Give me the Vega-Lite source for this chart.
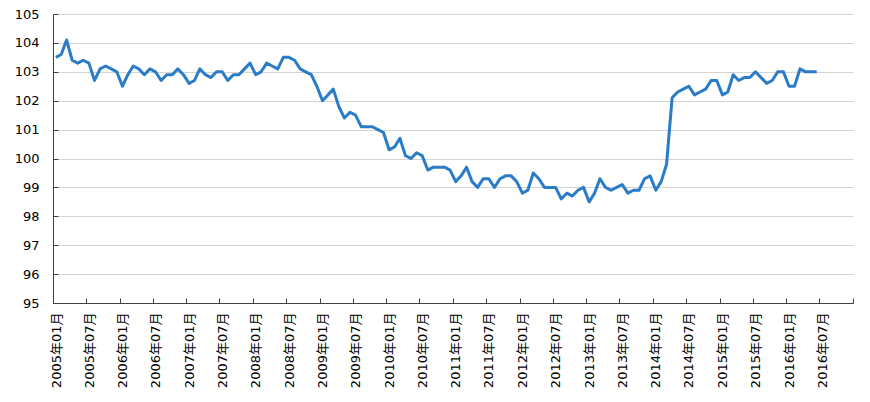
{
  "$schema": "https://vega.github.io/schema/vega-lite/v6.json",
  "width": 800,
  "height": 289,
  "autosize": {"type": "none"},
  "padding": {"left": 53, "top": 14, "right": 17, "bottom": 99},
  "background": "white",
  "data": {
    "values": [
      {"month": "2005-01", "value": 103.5}, {"month": "2005-02", "value": 103.6}, {"month": "2005-03", "value": 104.1},
      {"month": "2005-04", "value": 103.4}, {"month": "2005-05", "value": 103.3}, {"month": "2005-06", "value": 103.4},
      {"month": "2005-07", "value": 103.3}, {"month": "2005-08", "value": 102.7}, {"month": "2005-09", "value": 103.1},
      {"month": "2005-10", "value": 103.2}, {"month": "2005-11", "value": 103.1}, {"month": "2005-12", "value": 103.0},
      {"month": "2006-01", "value": 102.5}, {"month": "2006-02", "value": 102.9}, {"month": "2006-03", "value": 103.2},
      {"month": "2006-04", "value": 103.1}, {"month": "2006-05", "value": 102.9}, {"month": "2006-06", "value": 103.1},
      {"month": "2006-07", "value": 103.0}, {"month": "2006-08", "value": 102.7}, {"month": "2006-09", "value": 102.9},
      {"month": "2006-10", "value": 102.9}, {"month": "2006-11", "value": 103.1}, {"month": "2006-12", "value": 102.9},
      {"month": "2007-01", "value": 102.6}, {"month": "2007-02", "value": 102.7}, {"month": "2007-03", "value": 103.1},
      {"month": "2007-04", "value": 102.9}, {"month": "2007-05", "value": 102.8}, {"month": "2007-06", "value": 103.0},
      {"month": "2007-07", "value": 103.0}, {"month": "2007-08", "value": 102.7}, {"month": "2007-09", "value": 102.9},
      {"month": "2007-10", "value": 102.9}, {"month": "2007-11", "value": 103.1}, {"month": "2007-12", "value": 103.3},
      {"month": "2008-01", "value": 102.9}, {"month": "2008-02", "value": 103.0}, {"month": "2008-03", "value": 103.3},
      {"month": "2008-04", "value": 103.2}, {"month": "2008-05", "value": 103.1}, {"month": "2008-06", "value": 103.5},
      {"month": "2008-07", "value": 103.5}, {"month": "2008-08", "value": 103.4}, {"month": "2008-09", "value": 103.1},
      {"month": "2008-10", "value": 103.0}, {"month": "2008-11", "value": 102.9}, {"month": "2008-12", "value": 102.5},
      {"month": "2009-01", "value": 102.0}, {"month": "2009-02", "value": 102.2}, {"month": "2009-03", "value": 102.4},
      {"month": "2009-04", "value": 101.8}, {"month": "2009-05", "value": 101.4}, {"month": "2009-06", "value": 101.6},
      {"month": "2009-07", "value": 101.5}, {"month": "2009-08", "value": 101.1}, {"month": "2009-09", "value": 101.1},
      {"month": "2009-10", "value": 101.1}, {"month": "2009-11", "value": 101.0}, {"month": "2009-12", "value": 100.9},
      {"month": "2010-01", "value": 100.3}, {"month": "2010-02", "value": 100.4}, {"month": "2010-03", "value": 100.7},
      {"month": "2010-04", "value": 100.1}, {"month": "2010-05", "value": 100.0}, {"month": "2010-06", "value": 100.2},
      {"month": "2010-07", "value": 100.1}, {"month": "2010-08", "value": 99.6}, {"month": "2010-09", "value": 99.7},
      {"month": "2010-10", "value": 99.7}, {"month": "2010-11", "value": 99.7}, {"month": "2010-12", "value": 99.6},
      {"month": "2011-01", "value": 99.2}, {"month": "2011-02", "value": 99.4}, {"month": "2011-03", "value": 99.7},
      {"month": "2011-04", "value": 99.2}, {"month": "2011-05", "value": 99.0}, {"month": "2011-06", "value": 99.3},
      {"month": "2011-07", "value": 99.3}, {"month": "2011-08", "value": 99.0}, {"month": "2011-09", "value": 99.3},
      {"month": "2011-10", "value": 99.4}, {"month": "2011-11", "value": 99.4}, {"month": "2011-12", "value": 99.2},
      {"month": "2012-01", "value": 98.8}, {"month": "2012-02", "value": 98.9}, {"month": "2012-03", "value": 99.5},
      {"month": "2012-04", "value": 99.3}, {"month": "2012-05", "value": 99.0}, {"month": "2012-06", "value": 99.0},
      {"month": "2012-07", "value": 99.0}, {"month": "2012-08", "value": 98.6}, {"month": "2012-09", "value": 98.8},
      {"month": "2012-10", "value": 98.7}, {"month": "2012-11", "value": 98.9}, {"month": "2012-12", "value": 99.0},
      {"month": "2013-01", "value": 98.5}, {"month": "2013-02", "value": 98.8}, {"month": "2013-03", "value": 99.3},
      {"month": "2013-04", "value": 99.0}, {"month": "2013-05", "value": 98.9}, {"month": "2013-06", "value": 99.0},
      {"month": "2013-07", "value": 99.1}, {"month": "2013-08", "value": 98.8}, {"month": "2013-09", "value": 98.9},
      {"month": "2013-10", "value": 98.9}, {"month": "2013-11", "value": 99.3}, {"month": "2013-12", "value": 99.4},
      {"month": "2014-01", "value": 98.9}, {"month": "2014-02", "value": 99.2}, {"month": "2014-03", "value": 99.8},
      {"month": "2014-04", "value": 102.1}, {"month": "2014-05", "value": 102.3}, {"month": "2014-06", "value": 102.4},
      {"month": "2014-07", "value": 102.5}, {"month": "2014-08", "value": 102.2}, {"month": "2014-09", "value": 102.3},
      {"month": "2014-10", "value": 102.4}, {"month": "2014-11", "value": 102.7}, {"month": "2014-12", "value": 102.7},
      {"month": "2015-01", "value": 102.2}, {"month": "2015-02", "value": 102.3}, {"month": "2015-03", "value": 102.9},
      {"month": "2015-04", "value": 102.7}, {"month": "2015-05", "value": 102.8}, {"month": "2015-06", "value": 102.8},
      {"month": "2015-07", "value": 103.0}, {"month": "2015-08", "value": 102.8}, {"month": "2015-09", "value": 102.6},
      {"month": "2015-10", "value": 102.7}, {"month": "2015-11", "value": 103.0}, {"month": "2015-12", "value": 103.0},
      {"month": "2016-01", "value": 102.5}, {"month": "2016-02", "value": 102.5}, {"month": "2016-03", "value": 103.1},
      {"month": "2016-04", "value": 103.0}, {"month": "2016-05", "value": 103.0}, {"month": "2016-06", "value": 103.0}
    ]
  },
  "mark": {"type": "line", "color": "#2a7cc7", "strokeWidth": 3, "strokeJoin": "round"},
  "encoding": {
    "x": {
      "field": "month",
      "type": "temporal",
      "timeUnit": "utcyearmonth",
      "bandPosition": 0.5,
      "scale": {
        "type": "utc",
        "domain": [
          {"year": 2005, "month": 1, "date": 1, "utc": true},
          {"year": 2017, "month": 1, "date": 1, "utc": true}
        ]
      },
      "axis": {
        "title": null,
        "grid": false,
        "tickCount": {"interval": "month", "step": 6},
        "labelExpr": "datum.value > utc(2016, 8, 1) ? '' : utcFormat(datum.value, '%Y年%m月')",
        "labelAngle": 270,
        "labelFlush": false,
        "labelOverlap": false,
        "labelOffset": 3,
        "labelPadding": 14,
        "labelFont": "DejaVu Sans, Noto Sans CJK JP",
        "labelFontSize": 13,
        "labelColor": "#000000",
        "tickSize": -5,
        "tickColor": "#404040",
        "domainColor": "#404040"
      }
    },
    "y": {
      "field": "value",
      "type": "quantitative",
      "scale": {"domain": [95, 105], "nice": false, "zero": false},
      "axis": {
        "title": null,
        "values": [95, 96, 97, 98, 99, 100, 101, 102, 103, 104, 105],
        "grid": true,
        "gridColor": "#d4d4d4",
        "gridWidth": 1.2,
        "labelFont": "DejaVu Sans",
        "labelFontSize": 13,
        "labelColor": "#000000",
        "labelPadding": 19,
        "tickSize": -5,
        "tickColor": "#404040",
        "domainColor": "#404040"
      }
    }
  },
  "config": {"view": {"stroke": null}}
}
